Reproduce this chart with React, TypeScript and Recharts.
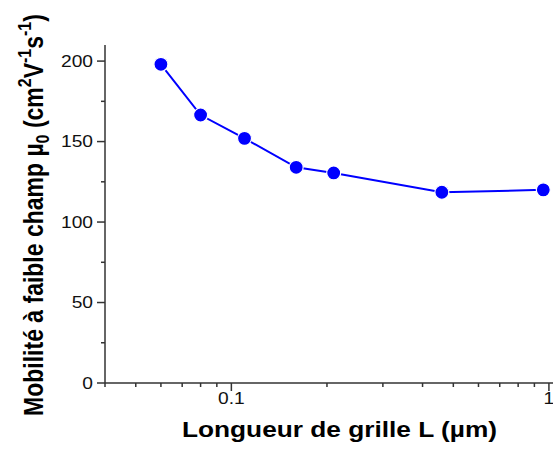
import React from 'react';
import {LineChart, Line, XAxis, YAxis} from 'recharts';

// Longueur de grille (µm) et mobilité à faible champ (cm²/Vs)
const gateLengths = [0.06, 0.08, 0.11, 0.16, 0.21, 0.46, 0.96];
const mobility = [198, 166.5, 152, 134, 130.5, 118.5, 120];

const xTicks = [0.04, 0.05, 0.06, 0.07, 0.08, 0.09, 0.1, 0.2, 0.3, 0.4, 0.5, 0.6, 0.7, 0.8, 0.9, 1];
const xMajor = [0.1, 1];
const yTicks = [0, 25, 50, 75, 100, 125, 150, 175, 200];
const yMajor = [0, 50, 100, 150, 200];

const FONT = '"Liberation Sans", Arial, sans-serif';
const AXIS = '#333';

const data = gateLengths.map((L, i) => ({L, mu: mobility[i]}));

// l'image d'origine est étirée horizontalement (~1.2)
const XTick = ({x, y, payload}: any) => {
    const major = xMajor.includes(payload.value);
    return (
        <g>
            <line x1={x} x2={x} y1={y} y2={y + (major ? 8 : 4)} stroke={AXIS} strokeWidth={1.5}/>
            {major && (
                <text transform={`translate(${x},${y + 21}) scale(1.2,1)`} textAnchor="middle"
                      fontSize={16} fontFamily={FONT} fill="#111">
                    {payload.value}
                </text>
            )}
        </g>
    );
};

const YTick = ({x, y, payload}: any) => {
    const major = yMajor.includes(payload.value);
    return (
        <g>
            <line x1={x - (major ? 8 : 4)} x2={x} y1={y} y2={y} stroke={AXIS} strokeWidth={1.5}/>
            {major && (
                <text transform={`translate(${x - 12},${y}) scale(1.2,1)`} dy="0.36em" textAnchor="end"
                      fontSize={16} fontFamily={FONT} fill="#111">
                    {payload.value}
                </text>
            )}
        </g>
    );
};

const XTitle = () => (
    <text x={182} y={437} fontSize={22} fontWeight="bold" fontFamily={FONT} fill="#000"
          textLength={315} lengthAdjust="spacingAndGlyphs">
        Longueur de grille L (µm)
    </text>
);

const YTitle = () => (
    <text transform="translate(43,215) rotate(-90) scale(1,1.2)" textAnchor="middle" fontSize={23}
          fontWeight="bold" fontFamily={FONT} fill="#000">
        Mobilité à faible champ µ
        <tspan fontSize={16} dy={5}>0</tspan>
        <tspan dy={-5}> (cm</tspan>
        <tspan fontSize={16} dy={-10}>2</tspan>
        <tspan dy={10}>V</tspan>
        <tspan fontSize={16} dy={-10}>-1</tspan>
        <tspan dy={10}>s</tspan>
        <tspan fontSize={16} dy={-10}>-1</tspan>
        <tspan dy={10}>)</tspan>
    </text>
);

export default function App() {
    return (
        <div style={{position: 'absolute', left: 0, top: 0, background: '#fff'}}>
            <LineChart width={553} height={450} data={data}
                       margin={{top: 45, right: 0, bottom: 0, left: 0}}>
                <XAxis dataKey="L" type="number" scale="log" domain={[0.04, 1.03]} allowDataOverflow
                       ticks={xTicks} interval={0} height={67} tickSize={0} tickMargin={0}
                       tickLine={false} tick={<XTick/>}
                       axisLine={{stroke: AXIS, strokeWidth: 1.5}}
                       label={{content: () => <XTitle/>}}/>
                <YAxis type="number" domain={[0, 210]} ticks={yTicks} interval={0} width={105}
                       tickSize={0} tickMargin={0} tickLine={false} tick={<YTick/>}
                       axisLine={{stroke: AXIS, strokeWidth: 1.5}}
                       label={{content: () => <YTitle/>}}/>
                <Line dataKey="mu" stroke="#0000ff" strokeWidth={2} isAnimationActive={false}
                      dot={{r: 7, fill: '#0000ff', stroke: '#fff', strokeWidth: 1.2}}/>
            </LineChart>
        </div>
    );
}
